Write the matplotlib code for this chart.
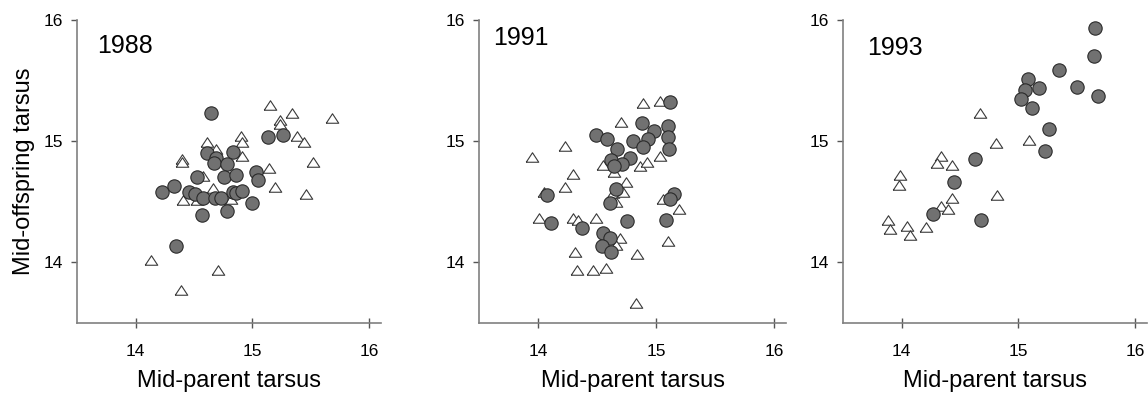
import matplotlib
matplotlib.use("Agg")
import matplotlib.pyplot as plt
import numpy as np

plt.rcParams['font.family'] = ['Liberation Sans', 'DejaVu Sans']

years = ["1988", "1991", "1993"]

# 1988
circ88_x = [14.65, 15.13, 15.26, 14.61, 14.83, 14.69, 14.67, 14.78, 14.53, 14.76, 14.86, 15.03, 15.05,
            14.23, 14.33, 14.46, 14.51, 14.58, 14.68, 14.73, 14.83, 14.86, 14.91, 15.00, 14.57, 14.78, 14.35]
circ88_y = [15.23, 15.03, 15.05, 14.90, 14.91, 14.86, 14.82, 14.81, 14.70, 14.70, 14.72, 14.74, 14.68,
            14.58, 14.63, 14.58, 14.56, 14.53, 14.53, 14.53, 14.58, 14.57, 14.59, 14.49, 14.39, 14.42, 14.13]
tri88_x = [15.15, 15.34, 15.24, 15.24, 15.68, 15.38, 15.44, 15.52, 15.14, 15.19, 15.46, 14.90, 14.91,
           14.91, 14.61, 14.69, 14.40, 14.40, 14.58, 14.66, 14.41, 14.53, 14.82, 14.13, 14.71, 14.39]
tri88_y = [15.30, 15.23, 15.17, 15.14, 15.19, 15.04, 14.99, 14.83, 14.78, 14.62, 14.56, 15.04, 14.99,
           14.88, 14.99, 14.93, 14.85, 14.83, 14.71, 14.61, 14.51, 14.51, 14.52, 14.02, 13.93, 13.77]

# 1991
circ91_x = [15.12, 14.88, 15.10, 14.98, 14.49, 14.58, 14.93, 15.10, 14.80, 14.89, 15.11, 14.67, 14.62,
            14.78, 14.71, 14.64, 14.66, 14.61, 15.15, 15.12, 14.07, 14.11, 14.37, 14.75, 15.08, 14.55,
            14.61, 14.54, 14.62]
circ91_y = [15.32, 15.15, 15.12, 15.08, 15.05, 15.02, 15.02, 15.03, 15.00, 14.95, 14.93, 14.93, 14.84,
            14.86, 14.81, 14.79, 14.60, 14.49, 14.56, 14.52, 14.55, 14.32, 14.28, 14.34, 14.35, 14.24,
            14.20, 14.13, 14.08]
tri91_x = [14.89, 15.03, 14.70, 14.23, 13.95, 14.55, 14.64, 14.86, 14.92, 15.03, 14.29, 14.74, 14.23,
           14.05, 14.63, 14.72, 14.66, 15.06, 15.19, 14.01, 14.29, 14.34, 14.49, 14.69, 14.66, 15.10,
           14.84, 14.31, 14.33, 14.46, 14.57, 14.83]
tri91_y = [15.31, 15.33, 15.16, 14.96, 14.87, 14.80, 14.74, 14.79, 14.83, 14.88, 14.73, 14.66, 14.62,
           14.58, 14.57, 14.58, 14.50, 14.52, 14.44, 14.36, 14.36, 14.35, 14.36, 14.20, 14.14, 14.17,
           14.07, 14.08, 13.93, 13.93, 13.95, 13.66]

# 1993
circ93_x = [15.66, 15.65, 15.35, 15.08, 15.18, 15.06, 15.50, 15.02, 15.68, 15.12, 15.26, 15.23,
            14.63, 14.45, 14.27, 14.68]
circ93_y = [15.93, 15.70, 15.59, 15.51, 15.44, 15.42, 15.45, 15.35, 15.37, 15.27, 15.10, 14.92,
            14.85, 14.66, 14.40, 14.35]
tri93_x = [14.67, 14.81, 15.09, 14.34, 14.30, 14.43, 13.99, 13.98, 14.82, 14.43, 14.34, 14.40,
           13.88, 13.90, 14.05, 14.07, 14.21]
tri93_y = [15.23, 14.98, 15.01, 14.88, 14.82, 14.80, 14.72, 14.64, 14.55, 14.53, 14.46, 14.44,
           14.35, 14.27, 14.30, 14.22, 14.29]

xticks = [14, 15, 16]
yticks = [14, 15, 16]

circles = [(circ88_x, circ88_y), (circ91_x, circ91_y), (circ93_x, circ93_y)]
triangles = [(tri88_x, tri88_y), (tri91_x, tri91_y), (tri93_x, tri93_y)]

tri_marker = [(-1.0, -0.76), (1.0, -0.76), (0.0, 0.76), (-1.0, -0.76)]

W, H = 1148, 400
fig = plt.figure(figsize=(W / 100, H / 100), dpi=100)

# axes boxes in pixels: left, width
boxes = [(77.3, 303.4), (479.3, 306.8), (843.3, 303.4)]
top_px, bot_px = 20.0, 322.5
year_pos = [(0.065, 0.914), (0.045, 0.942), (0.078, 0.909)]

spine_col = '#808080'
for i, (l, w) in enumerate(boxes):
    ax = fig.add_axes([l / W, 1 - bot_px / H, w / W, (bot_px - top_px) / H])
    tx, ty = triangles[i]
    cx, cy = circles[i]
    ax.scatter(tx, ty, marker=tri_marker, s=9.0 ** 2, facecolor='white',
               edgecolor='#3a3a3a', linewidth=0.8, zorder=2)
    ax.scatter(cx, cy, marker='o', s=9.6 ** 2, facecolor='#717171',
               edgecolor='#2a2a2a', linewidth=0.8, zorder=3)
    ax.set_xlim(13.5, 16.1)
    ax.set_ylim(13.5, 16.0)
    ax.set_xticks(xticks)
    ax.set_yticks(yticks)
    ax.set_xticklabels([str(t) for t in xticks])
    ax.set_yticklabels([str(t) for t in yticks])
    for s in ['top', 'right']:
        ax.spines[s].set_visible(False)
    for s in ['left', 'bottom']:
        ax.spines[s].set_color(spine_col)
        ax.spines[s].set_linewidth(1.2)
    ax.tick_params(axis='x', direction='inout', length=7.2, width=1.0,
                   color='#555555', labelsize=12.5, pad=12)
    ax.tick_params(axis='y', direction='out', length=4.3, width=1.0,
                   color='#555555', labelsize=12.5, pad=6)
    ax.set_xlabel('Mid-parent tarsus', fontsize=17, labelpad=8)
    if i == 0:
        ax.set_ylabel('Mid-offspring tarsus', fontsize=17, labelpad=6)
    ax.text(year_pos[i][0], year_pos[i][1], years[i], transform=ax.transAxes,
            fontsize=18, ha='left', va='center')

fig.savefig('out.png', dpi=100)
